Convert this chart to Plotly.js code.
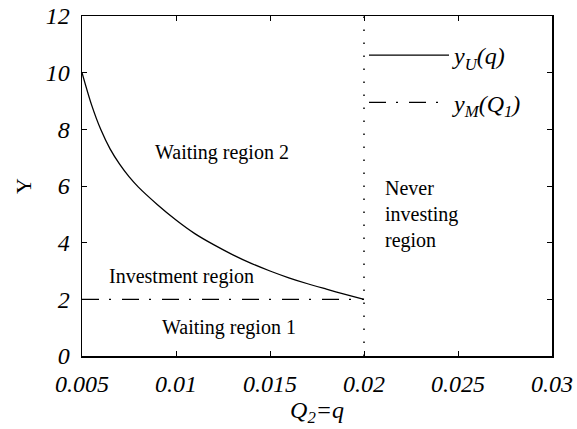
<!DOCTYPE html>
<html>
<head>
<meta charset="utf-8">
<script src="https://cdn.plot.ly/plotly-3.0.1.min.js"></script>
<style>html,body{margin:0;padding:0;background:#fff;} #chart{width:577px;height:429px;}</style>
</head>
<body>
<div id="chart"></div>
<script>
// Curve y_U(q)
const qValues = [0.005, 0.0055, 0.006, 0.0065, 0.007, 0.0075, 0.008, 0.009, 0.010, 0.011, 0.012, 0.013, 0.014, 0.015, 0.016, 0.017, 0.018, 0.019, 0.020];
const yUValues = [10.0, 8.88, 7.99, 7.3, 6.77, 6.33, 5.96, 5.35, 4.8, 4.32, 3.93, 3.58, 3.27, 3.0, 2.76, 2.55, 2.36, 2.175, 2.0];
// Threshold y_M(Q_1)
const yMq = [0.005, 0.020];
const yMValues = [2, 2];
// Boundary q = 0.02
const boundaryQ = [0.02, 0.02];
const boundaryY = [0, 12];
// Tick labels
const xTicks = [0.005, 0.01, 0.015, 0.02, 0.025, 0.03];
const xTickLabels = ['0.005', '0.01', '0.015', '0.02', '0.025', '0.03'];
const yTicks = [0, 2, 4, 6, 8, 10, 12];
const yTickLabels = ['0', '2', '4', '6', '8', '10', '12'];
// Region labels
const regionLabels = ['Waiting region 2', 'Investment region', 'Waiting region 1', 'Never<br>investing<br>region'];
const regionQ = [0.01245, 0.01029, 0.01282, 0.02101];
const regionY = [7.2, 2.8, 1.0, 4.98];

const serif = "'Liberation Serif', 'Times New Roman', Times, serif";

const traces = [
  {x: qValues, y: yUValues, type: 'scatter', mode: 'lines', name: '<i>y<sub>U</sub>(q)</i>',
   line: {color: '#000', width: 1.3, shape: 'spline', smoothing: 0.8}, legendgroup: 'a'},
  {x: yMq, y: yMValues, type: 'scatter', mode: 'lines', name: '<i>y<sub>M</sub>(Q<sub>1</sub>)</i>',
   line: {color: '#000', width: 1.3, dash: '17px,10px,2px,11px'}, legendgroup: 'b'},
  {x: boundaryQ, y: boundaryY, type: 'scatter', mode: 'lines', showlegend: false,
   line: {color: '#000', width: 1.5, dash: '1.5px,11.5px'}}
];

const annotations = regionLabels.map((t, i) => ({
  x: regionQ[i], y: regionY[i], xref: 'x', yref: 'y', text: t, showarrow: false,
  xanchor: i === 3 ? 'left' : 'center', yanchor: 'middle', align: 'left',
  font: {family: serif, size: 20, color: '#000'}
}));

const axisCommon = {
  showgrid: false, zeroline: false, showline: true, linecolor: '#000', linewidth: 1.5,
  mirror: 'ticks', ticks: 'inside', ticklen: 5, tickwidth: 1, tickcolor: '#000',
  tickfont: {family: serif, size: 24, color: '#000', style: 'italic'}
};

const layout = {
  width: 577, height: 429,
  margin: {l: 82, r: 25, t: 16, b: 73},
  paper_bgcolor: '#fff', plot_bgcolor: '#fff',
  font: {family: serif, color: '#000'},
  xaxis: Object.assign({}, axisCommon, {
    range: [0.005, 0.03], tickvals: xTicks, ticktext: xTickLabels, ticklabelstandoff: 6,
    title: {text: '<i>Q<sub>2</sub>=q</i>', font: {family: serif, size: 24, color: '#000'}, standoff: 4}
  }),
  yaxis: Object.assign({}, axisCommon, {
    range: [0, 12], tickvals: yTicks, ticktext: yTickLabels, ticklabelstandoff: 6,
    title: {text: 'Y', font: {family: serif, size: 22, color: '#000'}, standoff: 8}
  }),
  showlegend: true,
  legend: {x: 0.6, xanchor: 'left', y: 0.95, yanchor: 'top', bgcolor: 'rgba(0,0,0,0)',
    borderwidth: 0, font: {family: serif, size: 24, color: '#000'},
    itemwidth: 80, tracegroupgap: 13, traceorder: 'grouped'},
  annotations: annotations
};

Plotly.newPlot('chart', traces, layout, {displayModeBar: false, staticPlot: true});
</script>
</body>
</html>
